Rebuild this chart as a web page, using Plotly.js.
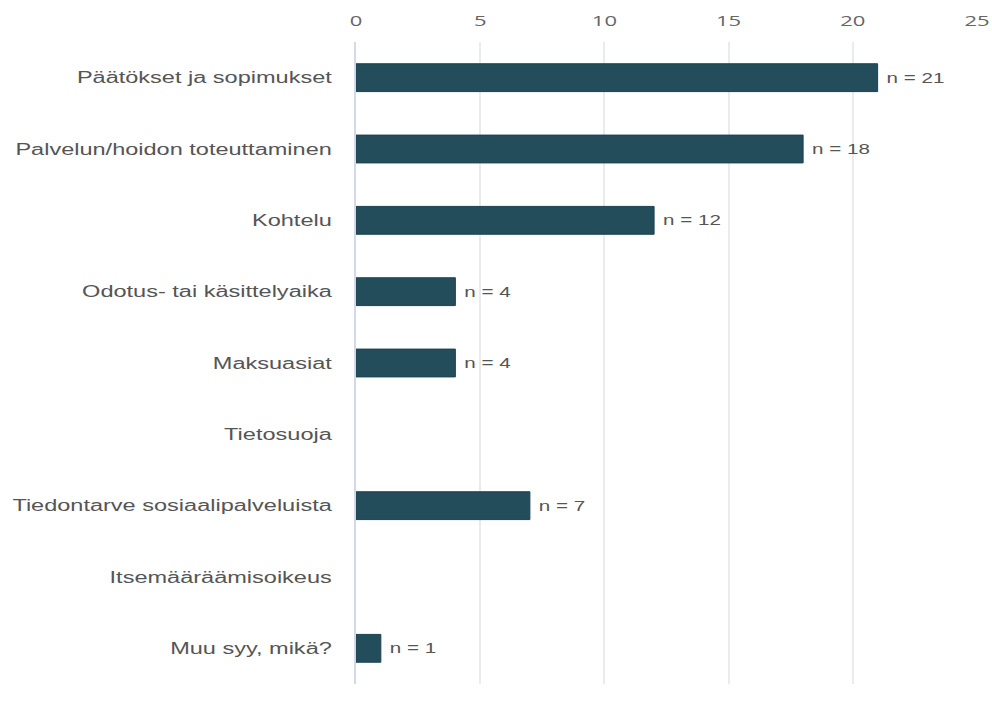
<!DOCTYPE html>
<html><head><meta charset="utf-8">
<script src="https://cdn.plot.ly/plotly-3.0.1.min.js"></script>
<style>html,body{margin:0;padding:0;background:#fff}#chart{width:992px;height:707px}</style>
</head><body><div id="chart"></div>
<script>
const categories = ["Päätökset ja sopimukset","Palvelun/hoidon toteuttaminen","Kohtelu","Odotus- tai käsittelyaika","Maksuasiat","Tietosuoja","Tiedontarve sosiaalipalveluista","Itsemääräämisoikeus","Muu syy, mikä?"];
const values = [21, 18, 12, 4, 4, 0, 7, 0, 1];
const tickVals = [0, 5, 10, 15, 20, 25];
const labels = values.map(v => v > 0 ? "n = " + v : "");
const STRETCH = 1.47;

Plotly.newPlot("chart", [{
  type: "bar",
  orientation: "h",
  y: categories,
  x: values,
  text: labels,
  textposition: "outside",
  cliponaxis: false,
  textfont: {family: "Liberation Sans, Arial, sans-serif", size: 14, color: "#555"},
  marker: {color: "#234d5b", line: {color: "#1d4250", width: values.map(v => v > 0 ? 1 : 0)}},
  width: 0.39,
  hoverinfo: "x+y"
}], {
  width: 992, height: 707,
  margin: {l: 356, r: 15, t: 42, b: 23},
  paper_bgcolor: "#fff", plot_bgcolor: "#fff",
  showlegend: false,
  xaxis: {
    side: "top", range: [0, 25], tickvals: tickVals, ticktext: tickVals.map(String),
    showgrid: true, gridcolor: "#ebebeb", gridwidth: 2, zeroline: false, showline: false,
    tickfont: {family: "Open Sans, sans-serif", size: 15, color: "#666"},
    ticks: "", ticklabelstandoff: 12
  },
  yaxis: {
    autorange: "reversed", categoryorder: "array", categoryarray: categories,
    tickfont: {family: "Liberation Sans, Arial, sans-serif", size: 16, color: "#555"},
    ticks: "", ticklabelstandoff: 19, showline: true, linecolor: "#d3d9e6", linewidth: 2,
    showgrid: false, zeroline: false
  }
}, {displayModeBar: false, staticPlot: true}).then(gd => {
  // the reference image is horizontally stretched; widen glyphs to match
  gd.querySelectorAll(".xtick text, .ytick text").forEach(t => {
    const w = t.getComputedTextLength();
    t.setAttribute("textLength", (w * STRETCH).toFixed(1));
    t.setAttribute("lengthAdjust", "spacingAndGlyphs");
  });
  gd.querySelectorAll("text.bartext").forEach(t => {
    const w = t.getComputedTextLength();
    if (!w) return;
    const x = parseFloat(t.getAttribute("x") || 0);
    t.setAttribute("text-anchor", "start");
    t.setAttribute("x", (x - w / 2 + 6).toFixed(1));
    t.setAttribute("textLength", (w * STRETCH).toFixed(1));
    t.setAttribute("lengthAdjust", "spacingAndGlyphs");
  });
});
</script></body></html>
